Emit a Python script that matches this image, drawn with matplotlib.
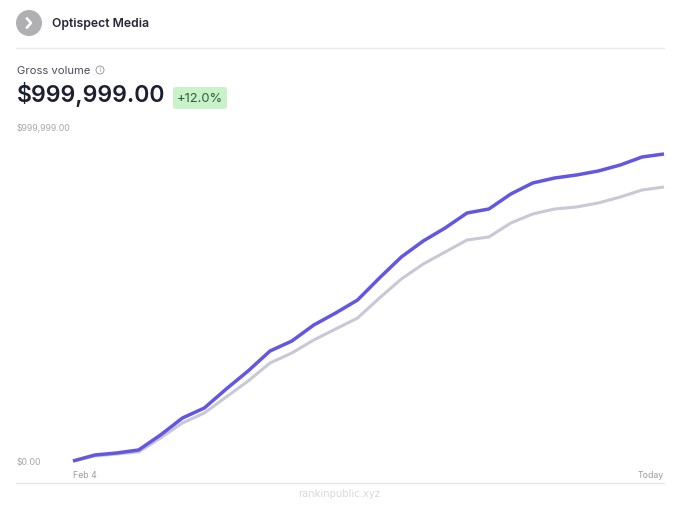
import matplotlib
matplotlib.use("Agg")
import matplotlib.pyplot as plt
from matplotlib.patches import Circle, FancyBboxPatch

plt.rcParams['font.family'] = ['Inter', 'DejaVu Sans']

# values, one per day
current = [0, 18000, 24000, 33000, 78000, 128700, 158700, 215600, 269500, 329300,
           359300, 407200, 443100, 482000, 547900, 610800, 658700, 697600, 742500, 754500,
           799400, 832300, 847300, 856300, 868300, 886200, 910200, 919200]
previous = [0, 15000, 21000, 27000, 68900, 113800, 143700, 191600, 239500, 293400,
            323400, 362300, 395200, 428100, 488000, 544900, 589800, 625700, 661700, 670700,
            712600, 739500, 754500, 760500, 772500, 790400, 811400, 820400]
y_ticks = [0, 999999]
y_labels = ['$0.00', '$999,999.00']
x_labels = ['Feb 4', 'Today']

W, H = 680, 509
fig = plt.figure(figsize=(W / 100, H / 100), dpi=100)

# page furniture, drawn in pixel coordinates
page = fig.add_axes([0, 0, 1, 1])
page.set_xlim(0, W)
page.set_ylim(H, 0)
page.axis('off')

page.add_patch(Circle((29, 23), 13, color='#b0b0b2', lw=0))
page.plot([27, 31, 27], [18.5, 23, 27.5], color='white', lw=1.8)
page.text(52, 23.5, 'Optispect Media', fontsize=8.8, fontweight='semibold', color='#262638', va='center')
page.plot([16, 664], [48, 48], color='#e9e9ec', lw=1)

page.text(17, 70.5, 'Gross volume', fontsize=8.1, color='#4d4d5c', va='center')
page.add_patch(Circle((100, 70), 4, fill=False, ec='#8d8d98', lw=0.6))
page.text(100, 70, 'i', fontsize=4.5, color='#8d8d98', ha='center', va='center')
page.text(17, 94, '$999,999.00', fontsize=16.6, fontweight='semibold', color='#1e1e32', va='center')
page.add_patch(FancyBboxPatch((175, 89), 50, 18, boxstyle='round,pad=2,rounding_size=3',
                              fc='#c9f2c9', ec='none'))
page.text(200, 98.5, '+12.0%', fontsize=9.3, color='#2f5d3f', ha='center', va='center')

page.plot([16, 664], [483, 483], color='#e9e9ec', lw=1)
page.text(339.5, 494, 'rankinpublic.xyz', fontsize=7.2, color='#d8d8dc', ha='center', va='center',
          family='DejaVu Sans')

# chart area: first day to last day, $0 to the top tick
ax = fig.add_axes([73 / W, 1 - 461 / H, (664 - 73) / W, (461 - 127) / H])
ax.patch.set_alpha(0)
days = list(range(len(current)))
ax.plot(days, previous, color='#c9c8d6', lw=2.2, clip_on=False, solid_joinstyle='round', solid_capstyle='butt')
ax.plot(days, current, color='#6157e3', lw=2.5, clip_on=False, solid_joinstyle='round', solid_capstyle='butt')
ax.set_xlim(days[0], days[-1])
ax.set_ylim(y_ticks[0], y_ticks[1])

for side in ax.spines.values():
    side.set_visible(False)

ax.set_yticks(y_ticks, y_labels, fontsize=6.3, color='#a6a6b0', ha='left')
ax.tick_params(axis='y', length=0, pad=40.3)
ax.set_xticks([days[0], days[-1]], x_labels, fontsize=6.3, color='#9a9aa6')
ax.tick_params(axis='x', length=0, pad=7.5)
tick_a, tick_b = ax.get_xticklabels()
tick_a.set_ha('left')
tick_b.set_ha('right')

fig.savefig('out.png', dpi=100)
